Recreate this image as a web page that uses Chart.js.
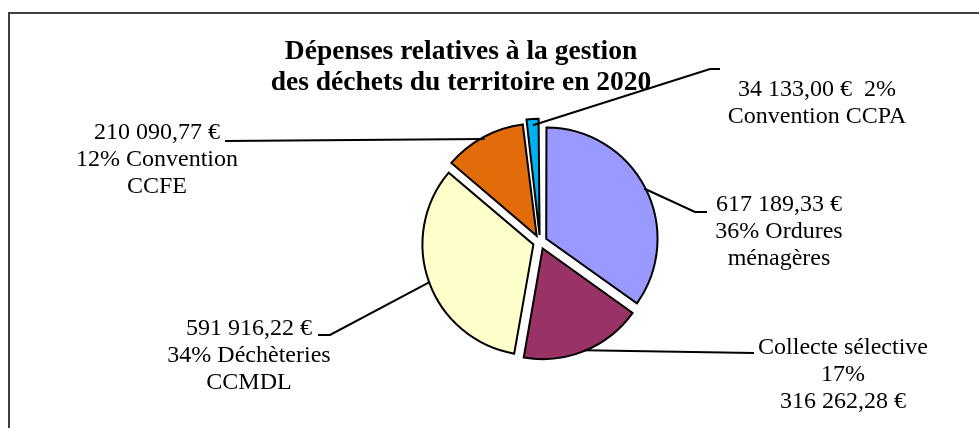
<!DOCTYPE html>
<html lang="fr">
<head>
<meta charset="utf-8">
<script src="https://cdn.jsdelivr.net/npm/chart.js@4/dist/chart.umd.min.js"></script>
<style>
  html, body { margin: 0; padding: 0; background: #fff; overflow: hidden; }
  #cadre {
    position: absolute; left: 8px; top: 12px; width: 1000px; height: 500px;
    border-left: 2px solid #404040; border-top: 2px solid #404040;
  }
  #graphique { position: absolute; left: 0; top: 0; }
</style>
</head>
<body>
<div id="cadre"></div>
<canvas id="graphique" width="979" height="428"></canvas>
<script>
// ============================================
// DONNÉES
// ============================================
const CATEGORIES = ["Ordures ménagères", "Collecte sélective", "Déchèteries CCMDL", "Convention CCFE", "Convention CCPA"];
const MONTANTS   = [617189.33, 316262.28, 591916.22, 210090.77, 34133.00];
const POURCENTS  = ["36%", "17%", "34%", "12%", "2%"];
const COULEURS   = ["#9999FF", "#993366", "#FFFFCC", "#E36C0A", "#00B0F0"];
const TITRE      = ["Dépenses relatives à la gestion", "des déchets du territoire en 2020"];

// Placement des étiquettes (centre du texte, coude et bout du trait de rappel)
const DISPOSITION = [
  { modele: "A", x: 779, y: 205, coude: [695, 212], fin: [707, 212] },
  { modele: "B", x: 843, y: 348, coude: null,       fin: [754, 353] },
  { modele: "A", x: 249, y: 329, coude: [330, 335], fin: [318, 335] },
  { modele: "A", x: 157, y: 133, coude: null,       fin: [225, 141] },
  { modele: "C", x: 817, y: 90,  coude: [710, 69],  fin: [720, 69] },
];

const POLICE = '"Liberation Serif", "Times New Roman", serif';
const INTERLIGNE = 27;

// 617189.33 -> "617 189,33 €"
function formatEuro(v) {
  const [ent, dec] = v.toFixed(2).split(".");
  return ent.replace(/\B(?=(\d{3})+(?!\d))/g, " ") + "," + dec + " €";
}

function lignesEtiquette(i) {
  const m = formatEuro(MONTANTS[i]);
  const p = POURCENTS[i];
  const cat = CATEGORIES[i];
  const k = cat.indexOf(" ");
  switch (DISPOSITION[i].modele) {
    case "A": return [m, p + " " + cat.slice(0, k), cat.slice(k + 1)];
    case "B": return [cat, p, m];
    default:  return [m + "  " + p, cat];
  }
}

// ============================================
// ÉTIQUETTES + TITRE dessinés après le camembert
// ============================================
const etiquettes = {
  id: "etiquettes",
  afterDatasetsDraw(chart) {
    const ctx = chart.ctx;
    const arcs = chart.getDatasetMeta(0).data;
    ctx.save();

    // traits de rappel
    ctx.strokeStyle = "#000";
    ctx.lineWidth = 2;
    arcs.forEach((arc, i) => {
      const { x, y, startAngle, endAngle, outerRadius } =
        arc.getProps(["x", "y", "startAngle", "endAngle", "outerRadius"], true);
      const milieu = (startAngle + endAngle) / 2;
      const r = outerRadius + arc.options.offset / 4;
      const d = DISPOSITION[i];
      ctx.beginPath();
      ctx.moveTo(x + Math.cos(milieu) * r, y + Math.sin(milieu) * r);
      if (d.coude) ctx.lineTo(d.coude[0], d.coude[1]);
      ctx.lineTo(d.fin[0], d.fin[1]);
      ctx.stroke();
    });

    // textes
    ctx.fillStyle = "#000";
    ctx.textAlign = "center";
    ctx.textBaseline = "middle";
    ctx.font = "24px " + POLICE;
    arcs.forEach((arc, i) => {
      const d = DISPOSITION[i];
      lignesEtiquette(i).forEach((t, j) => ctx.fillText(t, d.x, d.y + j * INTERLIGNE));
    });

    ctx.font = "bold 27.5px " + POLICE;
    TITRE.forEach((t, j) => ctx.fillText(t, 461, 52 + j * 31));
    ctx.restore();
  }
};

// ============================================
// GRAPHIQUE
// ============================================
new Chart(document.getElementById("graphique"), {
  type: "pie",
  data: {
    labels: CATEGORIES,
    datasets: [{
      data: MONTANTS,
      backgroundColor: COULEURS,
      borderColor: "#000",
      borderWidth: 2,
      borderJoinStyle: "miter",
      offset: 28,
    }]
  },
  options: {
    responsive: false,
    devicePixelRatio: 1,
    animation: false,
    radius: 110,
    layout: { padding: { left: 101, top: 56, right: 0, bottom: 0 } },
    plugins: { legend: { display: false }, tooltip: { enabled: false }, title: { display: false } },
  },
  plugins: [etiquettes],
});
</script>
</body>
</html>
